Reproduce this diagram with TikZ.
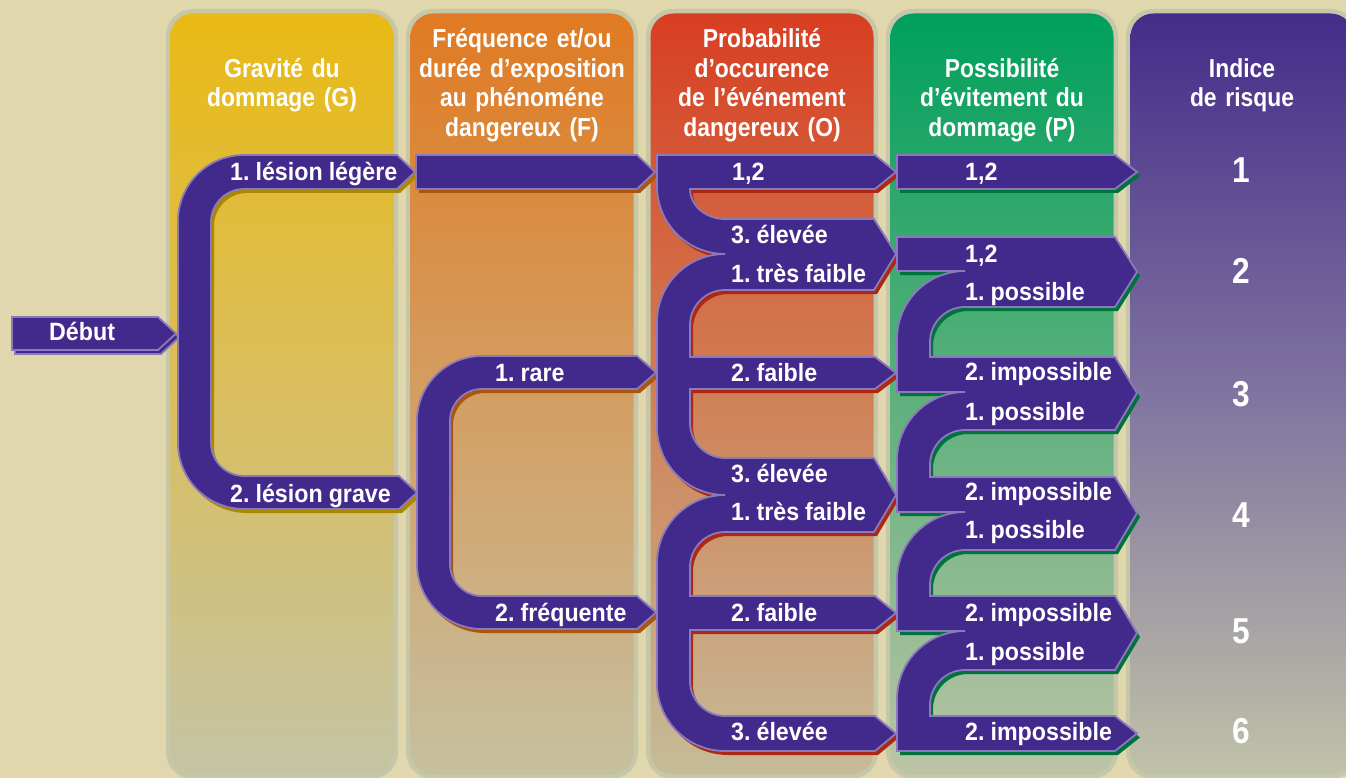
\documentclass[tikz,border=0pt]{standalone}
\usepackage{fontspec}
\setmainfont{Liberation Sans}
\newfontfamily\hfont[FakeStretch=0.88]{Liberation Sans}
\newfontfamily\lfont[FakeStretch=0.93]{Liberation Sans}
\frenchspacing
\newcommand\hdrspace{\spaceskip=5.5pt plus 1pt minus 0pt\relax}
\newcommand\lblspace{\spaceskip=6pt plus 1pt minus 0pt\relax}
\definecolor{bg}{RGB}{224,215,172}
\definecolor{pborder}{RGB}{197,199,168}
\definecolor{purp}{RGB}{66,42,140}
\definecolor{purpline}{RGB}{138,122,186}
\definecolor{shG}{RGB}{170,136,0}
\definecolor{shF}{RGB}{170,86,14}
\definecolor{shO}{RGB}{172,40,18}
\definecolor{shP}{RGB}{0,114,62}
\definecolor{gTop}{RGB}{233,186,20}\definecolor{gMid}{RGB}{218,190,95}\definecolor{gBot}{RGB}{196,196,164}
\definecolor{fTop}{RGB}{224,122,34}\definecolor{fMid}{RGB}{212,158,98}\definecolor{fBot}{RGB}{198,192,160}
\definecolor{oTop}{RGB}{216,62,34}\definecolor{oMid}{RGB}{208,128,86}\definecolor{oBot}{RGB}{198,188,152}
\definecolor{pTop}{RGB}{0,160,92}\definecolor{pMid}{RGB}{92,176,124}\definecolor{pBot}{RGB}{188,196,166}
\definecolor{iTop}{RGB}{68,44,138}\definecolor{iMid}{RGB}{128,116,160}\definecolor{iBot}{RGB}{192,194,168}

% shape outlines in pixel coordinates (y downwards)
\newcommand\shpDebut{(12,317) -- (158,317) -- (176,333.5) -- (158,350) -- (12,350) -- cycle}
\newcommand\shpG{(244,155) -- (397,155) -- (415,172) -- (397,189) -- (244,189)
 .. controls (225.8,189) and (211,203.8) .. (211,222) -- (211,443)
 .. controls (211,461.2) and (225.8,476) .. (244,476)
 -- (399,476) -- (417,492.5) -- (399,509) -- (244,509)
 .. controls (207.5,509) and (178,479.5) .. (178,443) -- (178,221)
 .. controls (178,184.5) and (207.5,155) .. (244,155) -- cycle}
\newcommand\shpFtop{(416,155) -- (637,155) -- (655,172) -- (637,189) -- (416,189) -- cycle}
\newcommand\shpF{(482,356) -- (637,356) -- (656,372.5) -- (637,389) -- (482,389)
 .. controls (464.3,389) and (450,403.3) .. (450,421) -- (450,564)
 .. controls (450,581.7) and (464.3,596) .. (482,596)
 -- (637,596) -- (656,612.5) -- (637,629) -- (482,629)
 .. controls (446.1,629) and (417,599.9) .. (417,564) -- (417,421)
 .. controls (417,385.1) and (446.1,356) .. (482,356) -- cycle}
\newcommand\shpO{(657,155) -- (875,155) -- (896,172) -- (875,189) -- (690,189)
 .. controls (690,205.6) and (705.7,219) .. (725,219)
 -- (874,219) -- (896,254) -- (874,290) -- (725,290)
 .. controls (705.7,290) and (690,305.7) .. (690,325)
 -- (690,357) -- (875,357) -- (896,373) -- (875,389) -- (690,389) -- (690,423)
 .. controls (690,442.3) and (705.7,458) .. (725,458)
 -- (874,458) -- (896,495) -- (874,532) -- (725,532)
 .. controls (705.7,532) and (690,547.7) .. (690,567)
 -- (690,596) -- (875,596) -- (896,613) -- (875,630) -- (690,630) -- (690,681)
 .. controls (690,700.3) and (705.7,716) .. (725,716)
 -- (875,716) -- (896,733.5) -- (875,751) -- (725,751)
 .. controls (687.4,751) and (657,720.6) .. (657,683) -- (657,563)
 .. controls (657,525.4) and (687.4,495) .. (725,495)
 .. controls (687.4,495) and (657,464.6) .. (657,427) -- (657,322)
 .. controls (657,284.4) and (687.4,254) .. (725,254)
 .. controls (687.4,254) and (657,223.6) .. (657,186) -- cycle}
\newcommand\shpPtop{(897,155) -- (1115,155) -- (1137,172) -- (1115,189) -- (897,189) -- cycle}
\newcommand\shpP{(897,237) -- (1115,237) -- (1137,272) -- (1115,307) -- (965,307)
 .. controls (945.7,307) and (930,322.7) .. (930,342)
 -- (930,357) -- (1115,357) -- (1137,393) -- (1115,430) -- (965,430)
 .. controls (945.7,430) and (930,445.7) .. (930,465)
 -- (930,477) -- (1115,477) -- (1137,513) -- (1115,550) -- (965,550)
 .. controls (945.7,550) and (930,565.7) .. (930,585)
 -- (930,596) -- (1115,596) -- (1137,633) -- (1115,670) -- (965,670)
 .. controls (945.7,670) and (930,685.7) .. (930,705)
 -- (930,716) -- (1115,716) -- (1137,733.5) -- (1115,751) -- (897,751) -- (897,699)
 .. controls (897,661.4) and (927.4,631) .. (965,631)
 -- (897,631) -- (897,580)
 .. controls (897,542.4) and (927.4,512) .. (965,512)
 -- (897,512) -- (897,460)
 .. controls (897,422.4) and (927.4,392) .. (965,392)
 -- (897,392) -- (897,339)
 .. controls (897,301.4) and (927.4,271) .. (965,271)
 -- (897,271) -- cycle}

\begin{document}
\begin{tikzpicture}[x=1pt,y=-1pt,
  panelout/.style={fill=pborder, rounded corners=27pt},
  panelin/.style={rounded corners=23pt},
  band/.style={fill=purp, draw=purpline, line width=1.8pt, line join=miter},
  lbl/.style={text=white, font=\lfont\bfseries\fontsize{25}{28}\selectfont\lblspace, inner sep=0pt, anchor=base west},
  hdr/.style={text=white, font=\hfont\bfseries\fontsize{26}{29.5}\selectfont\hdrspace, align=center, text width=228pt, inner sep=0pt, anchor=base},
  num/.style={text=white, font=\hfont\bfseries\fontsize{36}{40}\selectfont, inner sep=0pt, anchor=base}]
\useasboundingbox (0,0) rectangle (1346,778);
\clip (0,0) rectangle (1346,778);
\fill[bg] (0,0) rectangle (1346,778);

% panels
\fill[panelout] (166,9) rectangle (398,779);
\shade[panelin, top color=gTop, bottom color=gBot, middle color=gMid] (170.5,13.5) rectangle (393.5,774.5);
\fill[panelout] (406,9) rectangle (638,779);
\shade[panelin, top color=fTop, bottom color=fBot, middle color=fMid] (410.5,13.5) rectangle (633.5,774.5);
\fill[panelout] (646,9) rectangle (878,779);
\shade[panelin, top color=oTop, bottom color=oBot, middle color=oMid] (650.5,13.5) rectangle (873.5,774.5);
\fill[panelout] (886,9) rectangle (1118,779);
\shade[panelin, top color=pTop, bottom color=pBot, middle color=pMid] (890.5,13.5) rectangle (1113.5,774.5);
\fill[panelout] (1126,9) rectangle (1358,779);
\shade[panelin, top color=iTop, bottom color=iBot, middle color=iMid] (1130.5,13.5) rectangle (1353.5,774.5);

% shadows
\begin{scope}[shift={(3,4)}]
  \draw[band] \shpDebut;
  \fill[shG] \shpG;
  \fill[shF] \shpFtop;
  \fill[shF] \shpF;
  \fill[shO] \shpO;
  \fill[shP] \shpPtop;
  \fill[shP] \shpP;
\end{scope}

% purple shapes
\draw[band] \shpDebut;
\draw[band] \shpG;
\draw[band] \shpFtop;
\draw[band] \shpF;
\draw[band] \shpO;
\draw[band] \shpPtop;
\draw[band] \shpP;

% headers
\node[hdr] (hG) at (282,77.5) {Gravité du\\dommage (G)};
\node[hdr] (hF) at (522,48) {Fréquence et/ou\\durée d’exposition\\au phénoméne\\dangereux (F)};
\node[hdr] (hO) at (762,48) {Probabilité\\d’occurence\\de l’événement\\dangereux (O)};
\node[hdr] (hP) at (1002,77.5) {Possibilité\\d’évitement du\\dommage (P)};
\node[hdr] (hI) at (1242,77.5) {Indice\\de risque};

% labels
\node[lbl] (deb) at (49,340) {Début};
\node[lbl] (g1) at (230,181) {1. lésion légère};
\node[lbl] (g2) at (230,502) {2. lésion grave};
\node[lbl] (f1) at (495,381) {1. rare};
\node[lbl] (f2) at (495,621) {2. fréquente};
\node[lbl] (o1) at (732,181) {1,2};
\node[lbl] (o2) at (731,243) {3. élevée};
\node[lbl] (o3) at (731,282) {1. très faible};
\node[lbl] (o4) at (731,381) {2. faible};
\node[lbl] (o5) at (731,482) {3. élevée};
\node[lbl] (o6) at (731,520) {1. très faible};
\node[lbl] (o7) at (731,621) {2. faible};
\node[lbl] (o8) at (731,740) {3. élevée};
\node[lbl] (p1) at (965,181) {1,2};
\node[lbl] (p2) at (965,262) {1,2};
\node[lbl] (p3) at (965,300) {1. possible};
\node[lbl] (p4) at (965,380) {2. impossible};
\node[lbl] (p5) at (965,420) {1. possible};
\node[lbl] (p6) at (965,500) {2. impossible};
\node[lbl] (p7) at (965,538) {1. possible};
\node[lbl] (p8) at (965,621) {2. impossible};
\node[lbl] (p9) at (965,660) {1. possible};
\node[lbl] (p10) at (965,740) {2. impossible};

% risk indices
\node[num] (i1) at (1241,183) {1};
\node[num] (i2) at (1241,283) {2};
\node[num] (i3) at (1241,406) {3};
\node[num] (i4) at (1241,527) {4};
\node[num] (i5) at (1241,643) {5};
\node[num] (i6) at (1241,743) {6};
\end{tikzpicture}
\end{document}
